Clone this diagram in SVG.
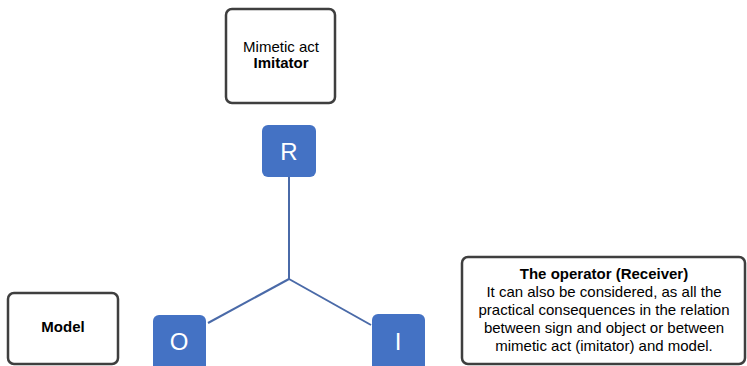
<svg xmlns="http://www.w3.org/2000/svg" width="747" height="366" viewBox="0 0 747 366">
<style>
.box{fill:#fff;stroke:#3f3f3f;stroke-width:2.5}
.sq{fill:#4472C4}
.t{font-family:"Liberation Sans",Arial,sans-serif;font-size:15px;fill:#000;text-anchor:middle}
.b{font-weight:bold}
.w{font-family:"Liberation Sans",Arial,sans-serif;font-size:24px;fill:#fff;text-anchor:middle}
.c{stroke:#4a6aa8;stroke-width:2;fill:none}
</style>
<rect width="747" height="366" fill="#fff"/>
<g id="connectors">
<line class="c" x1="289" y1="177" x2="289" y2="279"/>
<line class="c" x1="289" y1="279" x2="208" y2="323"/>
<line class="c" x1="289" y1="279" x2="371" y2="325"/>
</g>
<g id="imitator">
<rect class="box" x="226" y="9" width="109" height="94" rx="6"/>
<text class="t" x="281" y="52">Mimetic act</text>
<text class="t b" x="281" y="68">Imitator</text>
</g>
<g id="R">
<rect class="sq" x="262" y="125" width="54" height="52" rx="6"/>
<text class="w" x="289" y="160">R</text>
</g>
<g id="O">
<rect class="sq" x="153" y="315" width="53" height="60" rx="6"/>
<text class="w" x="179" y="350">O</text>
</g>
<g id="I">
<rect class="sq" x="372" y="314" width="53" height="60" rx="6"/>
<text class="w" x="398" y="350">I</text>
</g>
<g id="model">
<rect class="box" x="8" y="293" width="110" height="71" rx="6"/>
<text class="t b" x="63" y="332">Model</text>
</g>
<g id="operator">
<rect class="box" x="462" y="257" width="283" height="107" rx="6"/>
<text class="t b" x="604" y="279">The operator (Receiver)</text>
<text class="t" x="604" y="297">It can also be considered, as all the</text>
<text class="t" x="604" y="315">practical consequences in the relation</text>
<text class="t" x="604" y="333">between sign and object or between</text>
<text class="t" x="604" y="351">mimetic act (imitator) and model.</text>
</g>
</svg>
